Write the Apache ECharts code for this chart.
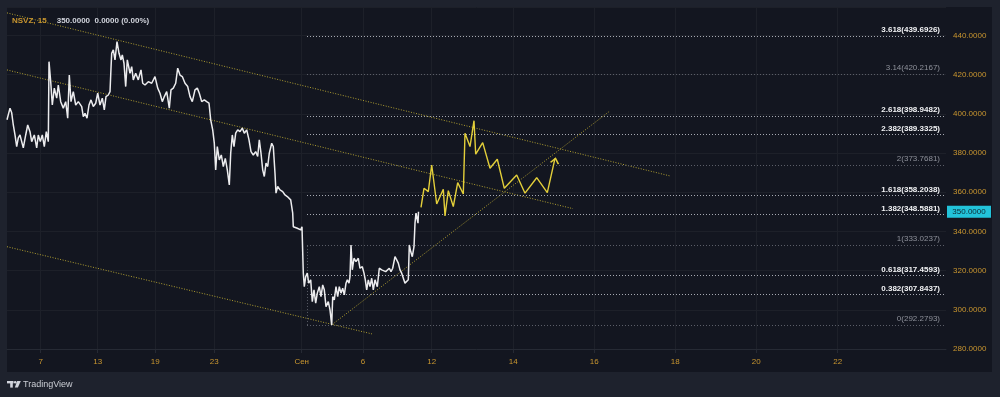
<!DOCTYPE html>
<html><head><meta charset="utf-8">
<script src="https://cdn.jsdelivr.net/npm/echarts@6/dist/echarts.min.js"></script>
<style>html,body{margin:0;padding:0;background:#131620;}#c{width:1000px;height:397px;}</style>
</head><body><div id="c"></div>
<script>
// ---------- DATA ----------
const ticker = 'NSVZ, 15';
const lastPrice = 350;
const lastChange = '0.0000 (0.00%)';

// white price line (x = bar position, y = price)
const priceT = [0,3,4.7,6.3,8,9.7,11.3,13,14.7,16.3,18.7,20.7,23,24.7,27.3,29.7,31.3,33.3,35.3,37.3,39.3,41.3,42,43.7,45.3,47.3,49.7,51.3,53.7,56.3,58.7,60.7,62.3,64,66.3,68.7,71.3,74.7,76.3,78,80,82,84,86.3,88.7,90.7,93,95.3,97.3,99,101.3,103,104,
104.7,106.3,108,110,112,114,115.3,117,118.7,120.3,122,123,124.7,126.3,128.7,131.3,134,135.7,138,141.3,144.7,148,150.7,153,155.3,157.3,159.7,162.3,164,166.3,168.7,170.7,173,175.3,178,180.7,183,185.3,188,190.3,192.3,194.7,197.3,199.7,202,
203.7,205.7,207.3,208.7,210.3,212.3,214.3,216.3,218.3,220.3,222.3,223.7,225.3,227,228.7,230.7,233,235.3,237.3,239.7,242,244,246.3,248.7,250.7,252.3,254,255.7,257.3,259,260.7,262.3,264.7,266.3,268,269,270.7,273,275.7,278,280.3,282.3,283.7,285,285.7,
286.3,288,290.3,292.3,293.7,295,296.3,297.3,298.7,300.3,301.7,303.7,305.3,307,308.7,310.3,312.3,314,315.7,317.3,319,321.3,323,324.7,325.7,327.3,329,330.7,332.3,334,335.7,337.3,339,340.3,342,343,344,345.3,347,349,351.3,353,355.3,357,358.3,359.7,361.3,363,364.7,366.3,368,370.3,372.3,374.7,376.3,378.7,380.3,382.3,384,385.7,388,389.7,391.3,393,394.7,396.3,398,399.7,401.3,402.3,403.7,405.3,407,408,409,410.3,411,411.5];
const priceV = [397,402.9,400.5,394.3,389.2,383.3,387.7,389.2,385.8,382.6,389.2,394.3,390.9,385.8,389.2,382.6,389.2,385.8,389.2,383.3,390.9,385.8,426.6,416.4,404.5,413.1,408,414.7,406.2,402.9,406.2,397.8,419.8,406.2,411.3,404.5,406.2,403.7,398.6,400.3,397.8,404.5,407.1,403.7,405.4,410.5,404.5,408,402,408.8,409.6,411.3,423.3,
430.9,432.6,427.5,436.8,430.9,427.5,430.1,425.8,413.9,427.5,427.5,420.7,424.1,417.3,420.7,417.3,422.4,415.6,414.7,416.4,415.6,419,413.1,410.5,406.2,408.8,411.3,402.9,412.2,413.1,415.6,423.3,419.8,419,415.6,413.9,408.8,406.2,412.2,413.1,410.5,406.2,407.1,406.2,405.4,
396.9,391.8,385,371.4,383.3,376.5,379,373.1,377.3,371.4,363.7,379.9,389.2,383.3,390.1,391.8,390.9,392.7,390.1,391.8,386.7,380.7,379,380.7,378.2,386.7,379.9,371.4,368,374.8,373.1,379.9,385,383.3,369.7,359.5,362.9,361.2,360.3,358.6,357.8,358.6,356.1,355.2,349.3,
342.4,343.3,341.6,342.4,340.8,342.4,318.7,311.8,316.9,318.7,313.6,315.3,304.2,310.2,303.4,308.5,311.8,306.7,312.7,310.2,301.6,304.2,300,292.3,306.7,305.1,311.8,306.7,311.8,308.5,311,307.6,313.6,315.3,313.6,316.9,333.1,320.4,326.3,324.6,326.3,321.2,322,318.7,315.3,310.2,315.3,311.8,316.1,310.2,315.3,311.8,321.2,320.4,321.2,319.5,320.4,321.2,319.5,321.2,327.1,325.5,323.8,320.4,318.7,318.7,313.6,312.7,315.3,333.1,329.7,327.1,332.2,344.2,349.3,350.1,344.2,350];

// yellow projected path
const projT = [414,417,421.3,424.7,429.7,436.3,438,441.3,446.3,450.7,456.3,458,463,467,468.7,475.7,483,490.3,497.3,509.7,518,529.7,540.3,548];
const projV = [352.3,362,360.3,373.9,354,361.5,347.9,360.8,352.7,364.9,359.1,390.1,383.3,396.5,379.4,385.3,372.2,376.8,362,368.8,359.5,367.4,359.8,377.3];

// trend / channel lines (two end points each)
const upperT = [0,663],    upperV = [451.5,368.3];
const middleT = [0,566],   middleV = [422.4,351.6];
const lowerT = [0,365],    lowerV = [332.2,287.7];
const risingT = [324.7,603], risingV = [292.3,401.5];

// Fibonacci extension levels
const fibRatios = [0,0.382,0.618,1,1.382,1.618,2,2.382,2.618,3.14,3.618];
const fibPrices = [292.2793,307.8437,317.4593,333.0237,348.5881,358.2038,373.7681,389.3325,398.9482,420.2167,439.6926];
const fibStartT = 300;

// time axis ticks
const xTickPos = [33.7,90.7,148.3,207.3,294.7,356,424.7,506.3,587.3,668.3,749.3,830.7];
const xTickLabels = ['7','13','19','23','Сен','6','12','14','16','18','20','22'];

// ---------- CHART ----------
const X_MAX = 939, Y_MIN = 280, Y_MAX = 454.5;
const FONT = 'Liberation Sans';
const GOLD = '#c9962f';
const FRAME = '#1e222d';
const GRIDC = '#1d2029';
const mutedRatios = [0,1,2,3.14];
const zip = (a,b) => a.map((x,i) => [x,b[i]]);

const chart = echarts.init(document.getElementById('c'));

function trend(t, v) {
  return {type:'line', data: zip(t,v), symbol:'none', silent:true, clip:true,
    lineStyle:{color:'#b09f31', width:1, type:[1,1.6]}, z:3};
}

const fibLines = fibPrices.map((p,i) => {
  const muted = mutedRatios.includes(fibRatios[i]);
  return [{
    coord:[fibStartT, p],
    lineStyle:{color: muted ? '#5b5e68' : '#a6a9b2', width:1, type:[1,2]},
    label:{show:true, position:'insideEndTop', distance:[6,2],
      formatter: fibRatios[i] + '(' + p.toFixed(4) + ')',
      color: muted ? '#8e919a' : '#f2f3f5', fontWeight: muted ? 'normal' : 'bold',
      fontSize:8, fontFamily:FONT}
  }, {coord:[X_MAX, p]}];
});
fibLines.push([{coord:[fibStartT, fibPrices[0]], lineStyle:{color:'#5b5e68', width:1, type:[1,2]}, label:{show:false}},
               {coord:[fibStartT, fibPrices[3]]}]);

const projData = zip(projT, projV).map((d,i,arr) => i === arr.length-1 ? {
  value:d, symbol:'path://M0,6 L4.5,0 L9,6', symbolSize:[8,5], symbolRotate:-12, symbolOffset:[0,'50%'],
  itemStyle:{color:'rgba(0,0,0,0)', borderColor:'#e3cf3a', borderWidth:1.4}
} : {value:d, symbol:'none'});

const option = {
  backgroundColor:'#131620',
  animation:false,
  title:{left:12, top:12, padding:0, text:'{a|' + ticker + '}  {b|' + lastPrice.toFixed(4) + '  ' + lastChange + '}',
    textStyle:{rich:{a:{color:GOLD, fontSize:8, fontFamily:FONT}, b:{color:'#d1d4dc', fontSize:8, fontFamily:FONT}}}},
  grid:{left:7, right:54, top:7, bottom:48},
  xAxis:{type:'value', min:0, max:X_MAX,
    axisLine:{show:true, lineStyle:{color:'#262a34'}},
    axisTick:{show:true, customValues:xTickPos, length:4, lineStyle:{color:'#262a34'}},
    axisLabel:{customValues:xTickPos, formatter:v => xTickLabels[xTickPos.indexOf(v)], color:GOLD, fontSize:8, fontFamily:FONT, margin:9},
    splitLine:{show:true, lineStyle:{color:GRIDC}}},
  yAxis:{type:'value', position:'right', min:Y_MIN, max:Y_MAX, interval:20,
    axisLine:{show:false}, axisTick:{show:false},
    axisLabel:{color:GOLD, fontSize:8, fontFamily:FONT, margin:7, formatter:v => v.toFixed(4), showMaxLabel:false},
    splitLine:{show:true, lineStyle:{color:GRIDC}}},
  graphic:[
    {type:'rect', shape:{x:0,y:0,width:1000,height:7}, style:{fill:FRAME}, silent:true},
    {type:'rect', shape:{x:0,y:0,width:7,height:397}, style:{fill:FRAME}, silent:true},
    {type:'rect', shape:{x:992,y:0,width:8,height:397}, style:{fill:FRAME}, silent:true},
    {type:'rect', shape:{x:0,y:372,width:1000,height:25}, style:{fill:FRAME}, silent:true},
    {type:'rect', shape:{x:7,y:381,width:6.5,height:2.4}, style:{fill:'#d1d4dc'}, z:10},
    {type:'rect', shape:{x:10.2,y:381,width:2.6,height:6.6}, style:{fill:'#d1d4dc'}, z:10},
    {type:'circle', shape:{cx:15.2,cy:382.3,r:1.3}, style:{fill:'#d1d4dc'}, z:10},
    {type:'polygon', shape:{points:[[17.2,381],[20.8,381],[17.9,387.6],[14.8,387.6]]}, style:{fill:'#d1d4dc'}, z:10},
    {type:'text', x:23, y:384.2, style:{text:'TradingView', fill:'#c9ccd3', fontSize:9, fontFamily:FONT, textVerticalAlign:'middle'}, z:10}
  ],
  series:[
    trend(upperT, upperV), trend(middleT, middleV), trend(lowerT, lowerV), trend(risingT, risingV),
    {type:'line', name:'price', data:zip(priceT, priceV), symbol:'none', z:5,
      lineStyle:{color:'#ececee', width:1.5},
      markLine:{silent:true, symbol:['none','none'], animation:false, data:fibLines},
      markPoint:{silent:true, animation:false, data:[{coord:[X_MAX, lastPrice], symbol:'rect', symbolSize:[44,12], symbolOffset:[23,0],
        itemStyle:{color:'#22c3da'},
        label:{show:true, position:'inside', formatter:lastPrice.toFixed(4), color:'#0d2a33', fontSize:8, fontFamily:FONT}}]}
    },
    {type:'line', name:'projection', data:projData, showSymbol:true, z:6,
      lineStyle:{color:'#e3cf3a', width:1.4}}
  ]
};
chart.setOption(option);
</script></body></html>
